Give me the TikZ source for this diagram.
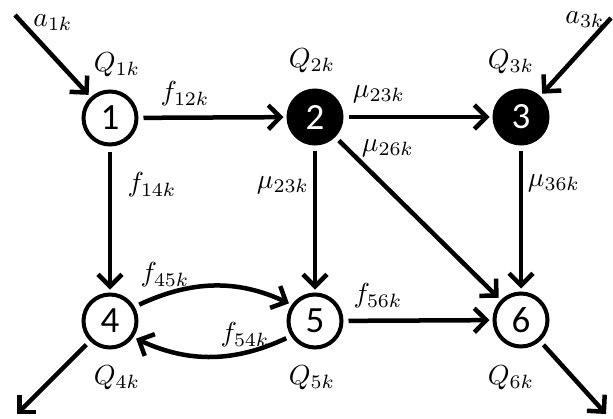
\documentclass[tikz,border=0pt]{standalone}
\usepackage{fontspec}
\newfontfamily\digitfont{Carlito}
\usetikzlibrary{arrows.meta}
\begin{document}
\begin{tikzpicture}[x=1pt,y=-1pt,
  st/.style={circle,draw,line width=4pt,minimum size=53pt,inner sep=0pt,
    font=\digitfont\fontsize{37}{37}\selectfont},
  blk/.style={st,fill=black,text=white},
  lbl/.style={font=\normalsize,inner sep=0pt,scale=2.75,transform shape},
  edge/.style={line width=4.5pt,-{Straight Barb[length=12pt,width=24pt]},
    shorten >=3pt,shorten <=5pt},
]
\useasboundingbox (0,0) rectangle (613,418);
\node[st]  (n1) at (110,118) {1};
\node[blk] (n2) at (315,117) {2};
\node[blk] (n3) at (521,117) {3};
\node[st]  (n4) at (110,321) {4};
\node[st]  (n5) at (315,321) {5};
\node[st]  (n6) at (521,320) {6};
\coordinate (a1) at (15,15);
\coordinate (a3) at (611,18);
\coordinate (o4) at (17,414);
\coordinate (o6) at (606,414);
% edges
\draw[edge,shorten <=0pt] (a1) -- (n1);
\draw[edge,shorten <=0pt] (a3) -- (n3);
\draw[edge,shorten >=0pt] (n4) -- (o4);
\draw[edge,shorten >=0pt] (n6) -- (o6);
\draw[edge] (n1) -- (n2);
\draw[edge] (n2) -- (n3);
\draw[edge] (n1) -- (n4);
\draw[edge] (n2) -- (n5);
\draw[edge] (n3) -- (n6);
\draw[edge] (n2) -- (n6);
\draw[edge] (n5) -- (n6);
\draw[edge] (n4.30) to[out=25,in=155] (n5.145);
\draw[edge] (n5.212) to[out=205,in=-25] (n4.-35);
% labels
\node[lbl] (la1) at (53,23) {$a_{1k}$};
\node[lbl] (la3) at (585,20) {$a_{3k}$};
\node[lbl] (q1) at (117,65) {$Q_{1k}$};
\node[lbl] (q2) at (312,61) {$Q_{2k}$};
\node[lbl] (q3) at (511,62) {$Q_{3k}$};
\node[lbl] (q4) at (117,378) {$Q_{4k}$};
\node[lbl] (q5) at (312,378) {$Q_{5k}$};
\node[lbl] (q6) at (511,378) {$Q_{6k}$};
\node[lbl] (f12) at (185,94) {$f_{12k}$};
\node[lbl] (m23a) at (379,94) {$\mu_{23k}$};
\node[lbl] (f14) at (152,185) {$f_{14k}$};
\node[lbl] (m23b) at (283,185) {$\mu_{23k}$};
\node[lbl] (m26) at (388,148) {$\mu_{26k}$};
\node[lbl] (m36) at (554,183) {$\mu_{36k}$};
\node[lbl] (f45) at (165,275) {$f_{45k}$};
\node[lbl] (f54) at (245,335) {$f_{54k}$};
\node[lbl] (f56) at (378,296) {$f_{56k}$};
\end{tikzpicture}
\end{document}
